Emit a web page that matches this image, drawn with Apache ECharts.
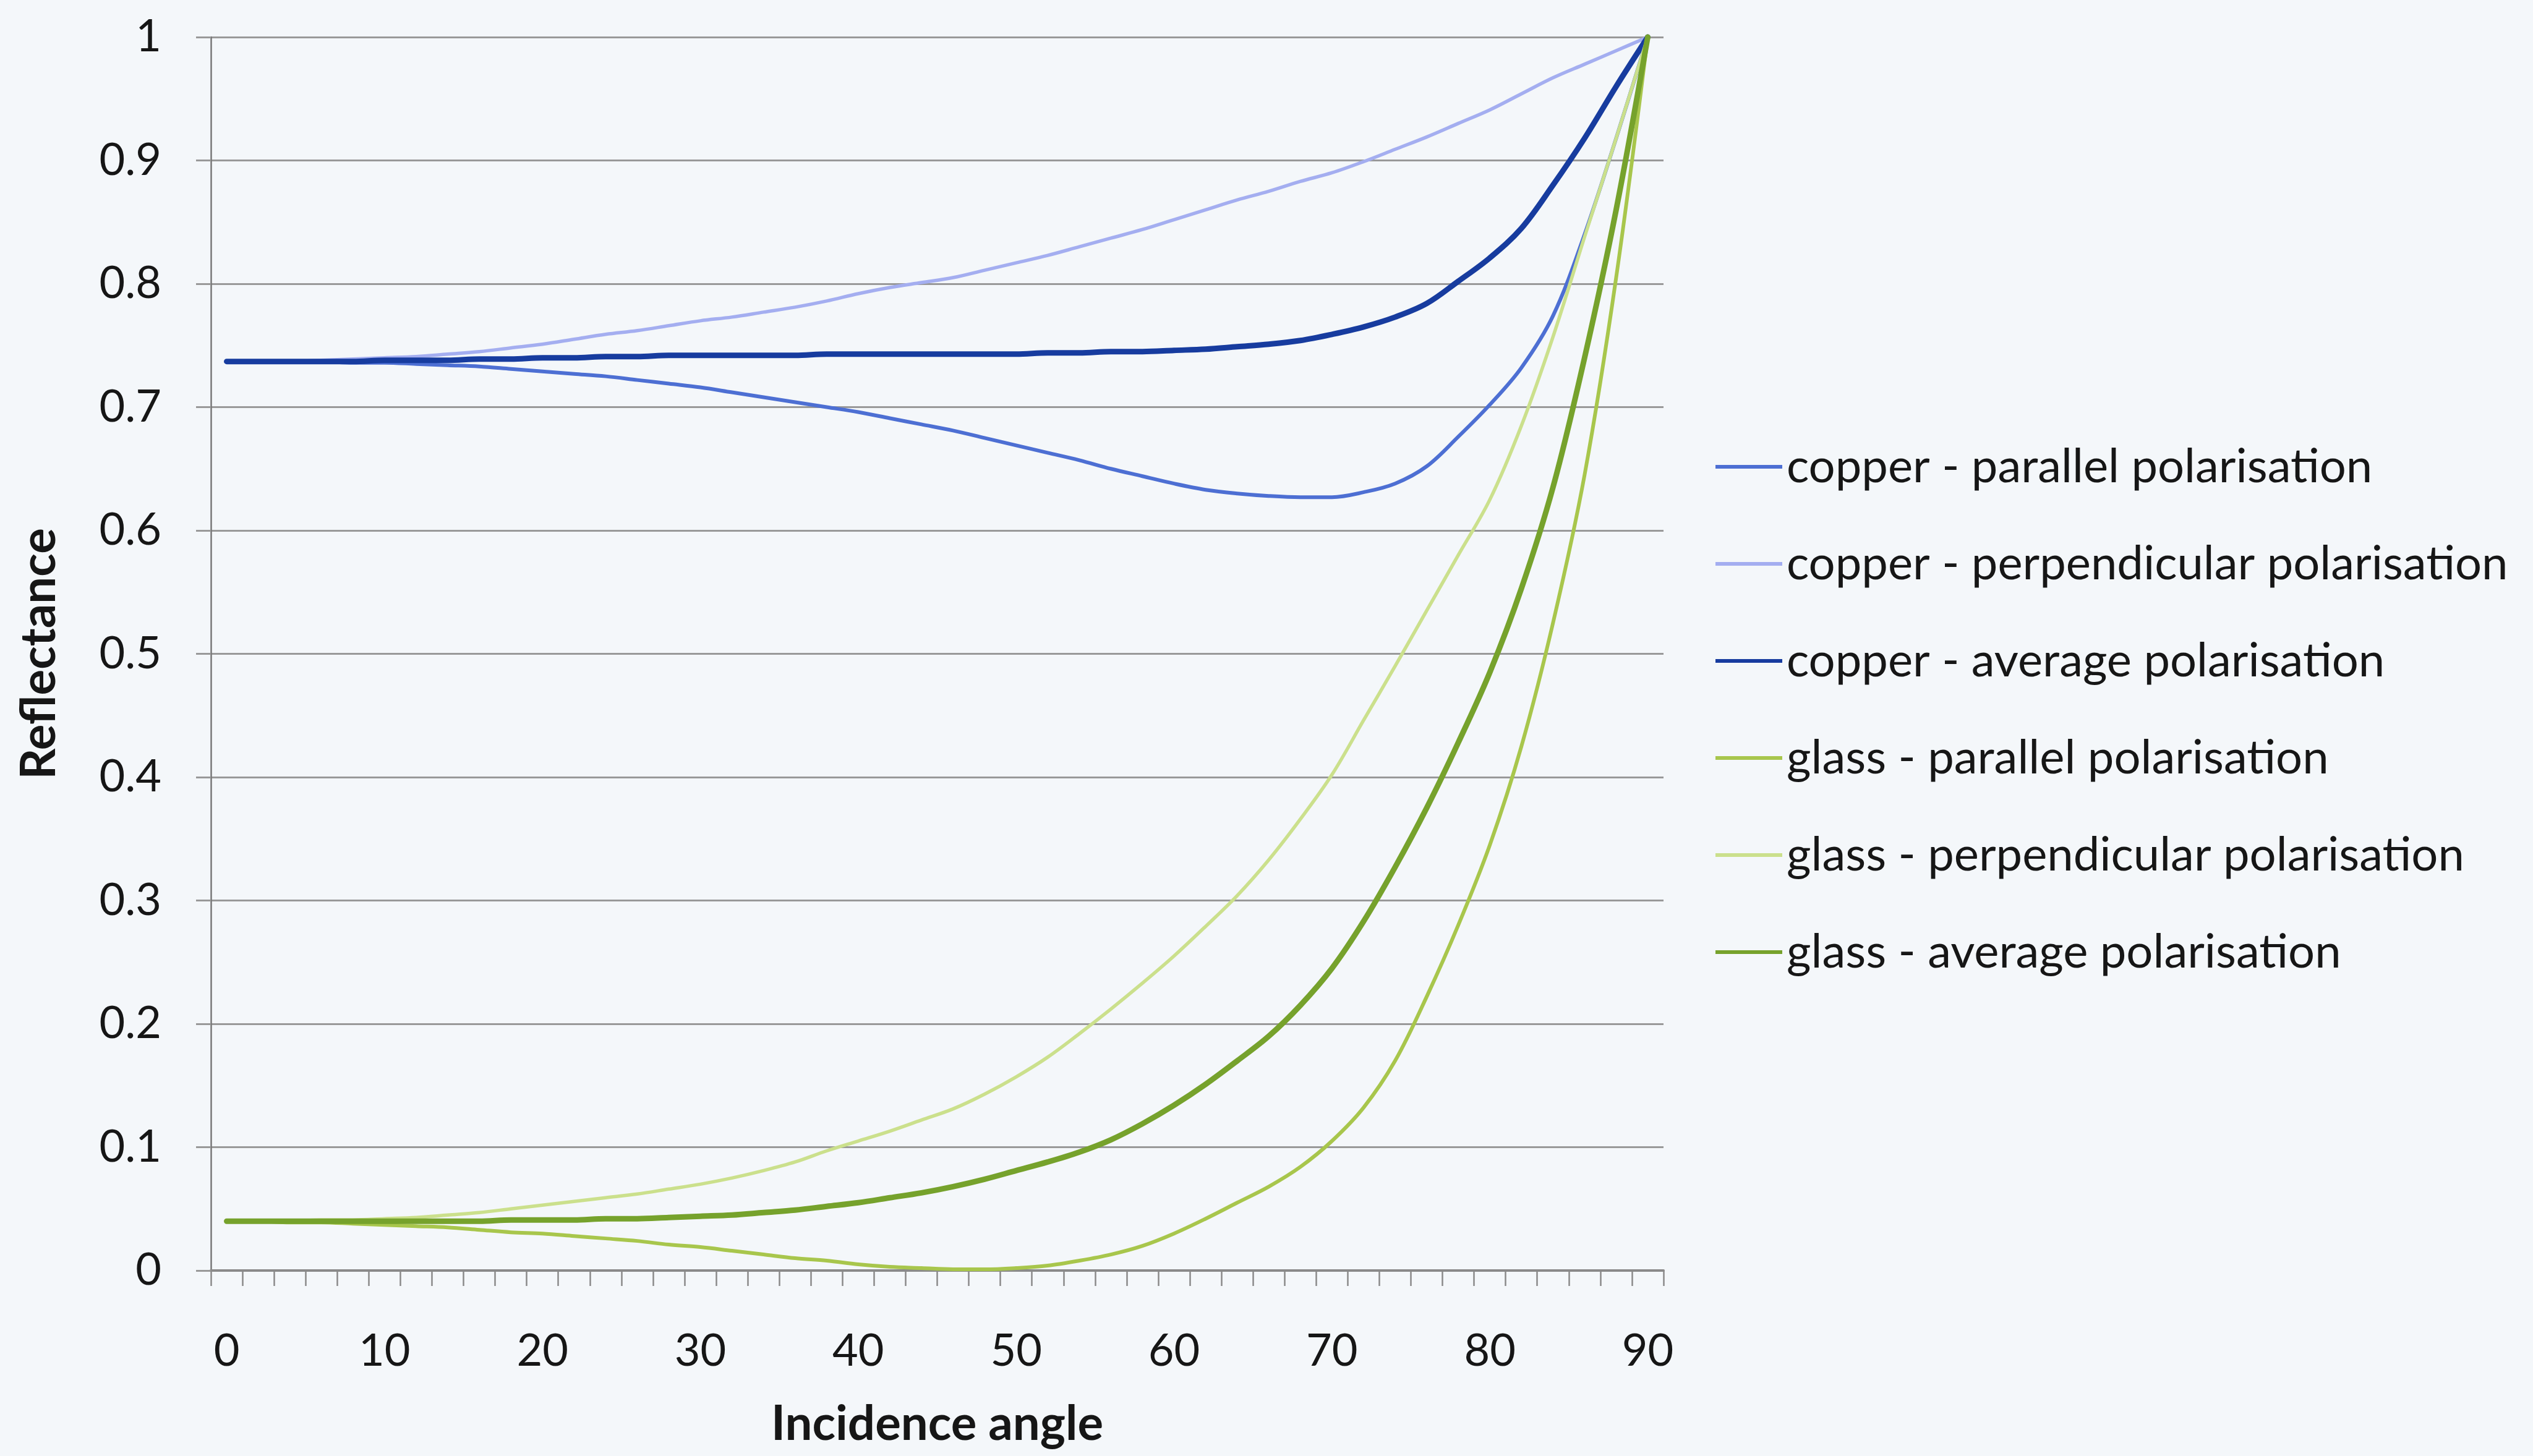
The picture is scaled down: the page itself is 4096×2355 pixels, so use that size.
<!DOCTYPE html>
<html>
<head>
<meta charset="utf-8">
<title>Reflectance vs incidence angle</title>
<script src="https://cdn.jsdelivr.net/npm/echarts@6/dist/echarts.min.js"></script>
<style>
  html, body { margin: 0; padding: 0; background: #f4f7fa; }
  #chart { width: 4096px; height: 2355px; }
</style>
</head>
<body>
<div id="chart"></div>
<script>
// Incidence angles (degrees), one category every 2 degrees
const angles = ['0','2','4','6','8','10','12','14','16','18','20','22','24','26','28','30','32','34','36','38','40','42','44','46','48','50','52','54','56','58','60','62','64','66','68','70','72','74','76','78','80','82','84','86','88','90'];

const copperParallel = [0.737,0.737,0.737,0.737,0.736,0.736,0.735,0.734,0.733,0.731,0.729,0.727,0.725,0.722,0.719,0.716,0.712,0.708,0.704,0.700,0.696,0.691,0.686,0.681,0.675,0.669,0.663,0.657,0.650,0.644,0.638,0.633,0.630,0.628,0.627,0.627,0.631,0.638,0.652,0.676,0.702,0.732,0.774,0.840,0.918,1.000];

const copperPerpendicular = [0.737,0.737,0.737,0.738,0.739,0.740,0.741,0.743,0.745,0.748,0.751,0.755,0.759,0.762,0.766,0.770,0.773,0.777,0.781,0.786,0.792,0.797,0.801,0.805,0.811,0.817,0.823,0.830,0.837,0.844,0.852,0.860,0.868,0.875,0.883,0.890,0.899,0.909,0.919,0.930,0.941,0.954,0.967,0.978,0.989,1.000];

const copperAverage = [0.737,0.737,0.737,0.737,0.737,0.738,0.738,0.738,0.739,0.739,0.740,0.740,0.741,0.741,0.742,0.742,0.742,0.742,0.742,0.743,0.743,0.743,0.743,0.743,0.743,0.743,0.744,0.744,0.745,0.745,0.746,0.747,0.749,0.751,0.754,0.759,0.765,0.773,0.784,0.802,0.821,0.845,0.880,0.918,0.960,1.000];

const glassParallel = [0.040,0.040,0.039,0.039,0.038,0.037,0.036,0.035,0.033,0.031,0.030,0.028,0.026,0.024,0.021,0.019,0.016,0.013,0.010,0.008,0.005,0.003,0.002,0.001,0.001,0.002,0.004,0.008,0.013,0.020,0.030,0.042,0.055,0.068,0.084,0.105,0.132,0.170,0.222,0.280,0.345,0.425,0.525,0.645,0.805,1.000];

const glassPerpendicular = [0.040,0.040,0.040,0.041,0.041,0.042,0.043,0.045,0.047,0.050,0.053,0.056,0.059,0.062,0.066,0.070,0.075,0.081,0.088,0.097,0.105,0.113,0.122,0.131,0.143,0.157,0.173,0.192,0.212,0.233,0.255,0.279,0.304,0.333,0.366,0.402,0.446,0.490,0.535,0.580,0.625,0.685,0.757,0.838,0.918,1.000];

const glassAverage = [0.040,0.040,0.040,0.040,0.040,0.040,0.040,0.040,0.040,0.041,0.041,0.041,0.042,0.042,0.043,0.044,0.045,0.047,0.049,0.052,0.055,0.059,0.063,0.068,0.074,0.081,0.088,0.096,0.106,0.119,0.134,0.151,0.170,0.190,0.215,0.245,0.283,0.327,0.375,0.428,0.485,0.553,0.635,0.740,0.860,1.000];

const seriesNames = [
  'copper - parallel polarisation',
  'copper - perpendicular polarisation',
  'copper - average polarisation',
  'glass - parallel polarisation',
  'glass - perpendicular polarisation',
  'glass - average polarisation'
];

const FONT = 'Lato, "Open Sans", sans-serif';
const TEXT = '#161616';

function lineSeries(name, data, color, width) {
  return {
    name: name,
    type: 'line',
    data: data,
    symbol: 'none',
    smooth: 0.35,
    clip: false,
    lineStyle: { color: color, width: width, cap: 'round', join: 'round' },
    itemStyle: { color: color },
    emphasis: { disabled: true }
  };
}

const chart = echarts.init(document.getElementById('chart'), null, { renderer: 'canvas' });

chart.setOption({
  backgroundColor: '#f4f7fa',
  animation: false,
  textStyle: { fontFamily: FONT },
  grid: { left: 341, right: 1406, top: 60, bottom: 300, containLabel: false },
  legend: {
    orient: 'vertical',
    left: 2769,
    top: 710,
    icon: 'rect',
    itemWidth: 108,
    itemHeight: 6,
    itemGap: 77,
    textStyle: { fontFamily: FONT, fontSize: 76, color: TEXT, lineHeight: 80, padding: [0, 0, 0, 2] },
    data: seriesNames
  },
  xAxis: {
    type: 'category',
    data: angles,
    boundaryGap: true,
    name: 'Incidence angle',
    nameLocation: 'middle',
    nameGap: 210,
    nameTextStyle: { fontFamily: FONT, fontSize: 78, fontWeight: 'bold', color: TEXT },
    axisLine: { show: true, lineStyle: { color: '#8a8a8a', width: 4 } },
    axisTick: { show: true, interval: 0, length: 25, lineStyle: { color: '#8a8a8a', width: 2.5 } },
    axisLabel: { interval: 4, fontSize: 72, color: TEXT, margin: 95, fontFamily: FONT },
    splitLine: { show: false }
  },
  yAxis: {
    type: 'value',
    min: 0,
    max: 1,
    interval: 0.1,
    name: 'Reflectance',
    nameLocation: 'middle',
    nameRotate: 90,
    nameGap: 238,
    nameTextStyle: { fontFamily: FONT, fontSize: 78, fontWeight: 'bold', color: TEXT },
    axisLine: { show: true, lineStyle: { color: '#777777', width: 2.5 } },
    axisTick: { show: true, length: 24, lineStyle: { color: '#999999', width: 3 } },
    axisLabel: { fontSize: 72, color: TEXT, margin: 80, fontFamily: FONT },
    splitLine: { show: true, lineStyle: { color: '#999999', width: 3 } }
  },
  series: [
    lineSeries(seriesNames[0], copperParallel, '#4d6fd3', 6),
    lineSeries(seriesNames[1], copperPerpendicular, '#a4aef0', 5.5),
    lineSeries(seriesNames[2], copperAverage, '#173c9f', 9),
    lineSeries(seriesNames[3], glassParallel, '#a8c64c', 6),
    lineSeries(seriesNames[4], glassPerpendicular, '#cbe08c', 5.5),
    lineSeries(seriesNames[5], glassAverage, '#76a22c', 9)
  ]
});
</script>
</body>
</html>
